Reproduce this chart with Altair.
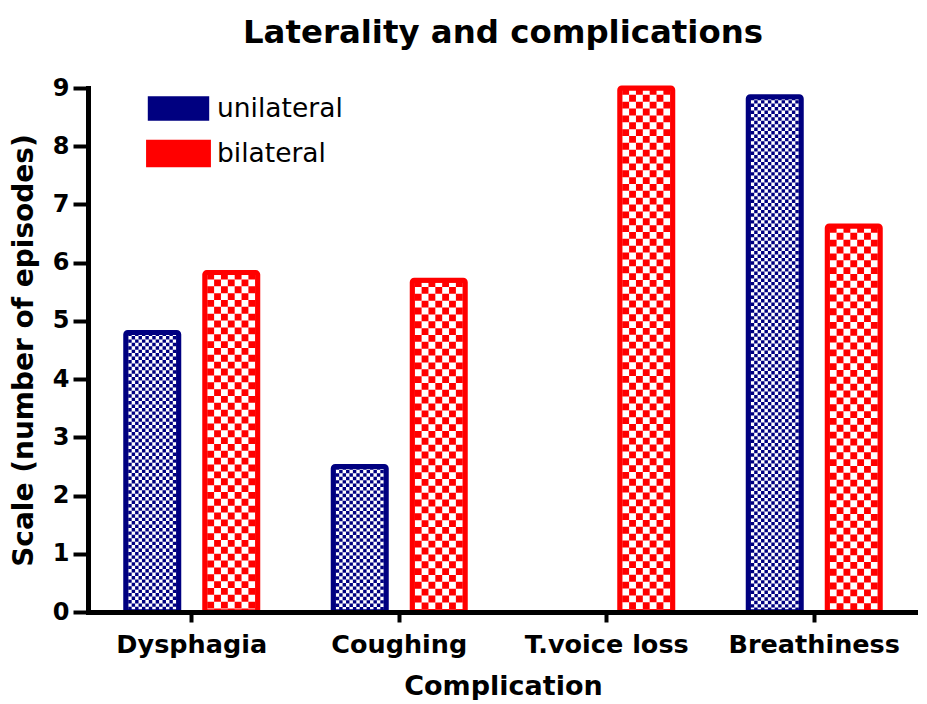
import altair as alt
import pandas as pd

# ---- data ----
categories = ["Dysphagia", "Coughing", "T.voice loss", "Breathiness"]
series_names = ["unilateral", "bilateral"]
unilateral = [4.8, 2.5, 0.0, 8.85]
bilateral = [5.83, 5.7, 9.0, 6.63]
series_colors = ["#000080", "#FF0000"]
y_ticks = list(range(10))

rows = []
for c, u, b in zip(categories, unilateral, bilateral):
    rows.append({"complication": c, "laterality": "unilateral", "episodes": u})
    rows.append({"complication": c, "laterality": "bilateral", "episodes": b})
df = pd.DataFrame(rows)

# ---- layout / style constants ----
FONT = "DejaVu Sans"
W, H = 830, 524
BAND = W / len(categories)
BAR, GAP, STROKE = 53, 26, 5
STEP = BAR + GAP
P_IN = GAP / STEP
P_OUT = (BAND / STEP - (2 - P_IN)) / 2
INNER = BAR - STROKE
N_U, N_B = 14, 7            # checker columns per bar
C_U, C_B = INNER / N_U, INNER / N_B
L_U = P_OUT * STEP + STROKE / 2
L_B = P_OUT * STEP + STEP + STROKE / 2

x_enc = alt.X(
    "complication:N", sort=categories,
    scale=alt.Scale(domain=categories, paddingInner=0, paddingOuter=0),
    axis=alt.Axis(
        title="Complication", labelAngle=0, labelFont=FONT, labelFontWeight="bold",
        labelFontSize=25.5, labelColor="black", labelPadding=10,
        tickSize=10, tickWidth=4, tickColor="black",
        domainColor="black", domainWidth=5, domainCap="butt",
        titleFont=FONT, titleFontSize=27, titleFontWeight="bold", titleColor="black",
        titlePadding=16, zindex=1,
    ),
)
y_enc = alt.Y(
    "episodes:Q",
    scale=alt.Scale(domain=[0, 9], nice=False),
    axis=alt.Axis(
        values=y_ticks, grid=False, title="Scale (number of episodes)",
        labelFont=FONT, labelFontWeight="bold", labelFontSize=24, labelColor="black",
        labelPadding=4, tickSize=15, tickWidth=4, tickColor="black",
        domainColor="black", domainWidth=5, domainCap="square",
        titleFont=FONT, titleFontSize=28, titleFontWeight="bold", titleColor="black",
        titlePadding=14, zindex=1,
    ),
)
xoff_bar = alt.XOffset(
    "laterality:N", sort=series_names,
    scale=alt.Scale(domain=series_names, paddingInner=P_IN, paddingOuter=P_OUT),
)
stroke_enc = alt.Stroke(
    "laterality:N", scale=alt.Scale(domain=series_names, range=series_colors), legend=None
)

base = alt.Chart(df).transform_filter("datum.episodes > 0")

# legend carrier (invisible bars)
legend_layer = base.mark_bar(opacity=0).encode(
    x=x_enc, xOffset=xoff_bar, y=y_enc,
    color=alt.Color(
        "laterality:N", scale=alt.Scale(domain=series_names, range=series_colors),
        legend=alt.Legend(
            title=None, orient="none", legendX=58, legendY=-2,
            symbolType="M-1,-0.36H1V0.36H-1Z", symbolSize=3364, symbolOpacity=1,
            symbolStrokeWidth=0, labelFont=FONT, labelFontSize=26.5, labelColor="black",
            labelOffset=6, clipHeight=45, rowPadding=0, padding=0, offset=0,
        ),
    ),
)

# checkerboard fill: dashed columns inside each bar
checker = base.transform_calculate(
    col=f"sequence(0, datum.laterality == 'unilateral' ? {N_U} : {N_B})"
).transform_flatten(["col"]).transform_calculate(
    off=f"(datum.laterality == 'unilateral' ? {L_U} : {L_B}) + (datum.col + 0.5) * "
        f"(datum.laterality == 'unilateral' ? {C_U} : {C_B})",
    dashkey="datum.laterality + (datum.col % 2)",
).mark_rule().encode(
    x=x_enc,
    xOffset=alt.XOffset("off:Q", scale=alt.Scale(domain=[0, BAND], range=[0, BAND], nice=False, zero=False)),
    y=y_enc,
    y2=alt.datum(0),
    stroke=stroke_enc,
    strokeWidth=alt.StrokeWidth(
        "laterality:O", scale=alt.Scale(domain=series_names, range=[C_U, C_B]), legend=None
    ),
    strokeDash=alt.StrokeDash(
        "dashkey:N",
        scale=alt.Scale(
            domain=["unilateral0", "unilateral1", "bilateral0", "bilateral1"],
            range=[[C_U, C_U], [0, C_U, C_U, 0], [C_B, C_B], [0, C_B, C_B, 0]],
        ),
        legend=None,
    ),
)

# bar outlines
outline = base.mark_bar(fillOpacity=0, strokeWidth=STROKE, cornerRadius=2).encode(
    x=x_enc, xOffset=xoff_bar, y=y_enc, stroke=stroke_enc,
)

chart = alt.layer(legend_layer, checker, outline).resolve_scale(
    xOffset="independent"
).properties(
    width=W, height=H,
    title=alt.TitleParams(
        "Laterality and complications", font=FONT, fontSize=32.4, fontWeight="bold",
        color="black", anchor="middle", frame="group", baseline="alphabetic", offset=1,
    ),
    padding={"left": 2, "top": 8, "right": 0, "bottom": 0},
).configure_view(stroke=None)

chart.save("out.html", embed_options={"renderer": "svg", "actions": False})
